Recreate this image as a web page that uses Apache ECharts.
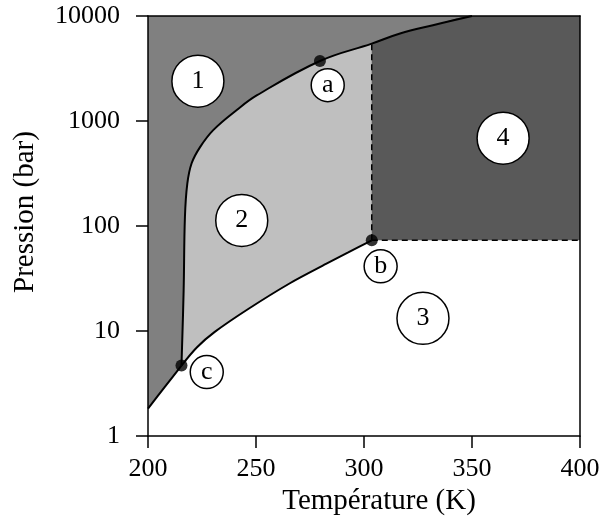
<!DOCTYPE html>
<html>
<head>
<meta charset="utf-8">
<script src="https://cdn.jsdelivr.net/npm/echarts@6.0.0/dist/echarts.min.js"></script>
<style>
    html, body {margin: 0; padding: 0; background: #fff;}
    #diagram {width: 603px; height: 517px;}
</style>
</head>
<body>
<div id="diagram"></div>
<script>
// courbes du diagramme de phase (T en K, P en bar)
var sublimT = [200, 207.7, 215.5];
var sublimP = [1.82, 2.92, 4.69];
var vapT = [215.5, 222.7, 230.9, 246.4, 265.7, 282.4, 292.7, 303.6];
var vapP = [4.69, 7.0, 9.8, 16.2, 28.5, 43.5, 56, 73.1];
var fusionT = [215.5, 216.5, 217.1, 218.2, 220.2, 224.1, 230.2, 241.1, 250.5, 279.6, 303.6, 316.7, 331.9, 350];
var fusionP = [4.69, 24.3, 122, 253, 396, 564, 819, 1273, 1762, 3727, 5455, 6808, 8173, 10000];

var xTicks = [200, 250, 300, 350, 400];
var yTicks = [1, 10, 100, 1000, 10000];

var regionNames = ['1', '2', '3', '4'];
var regionT = [223.1, 243.4, 327.3, 364.4];
var regionP = [2395, 113, 13.2, 686];

var pointNames = ['a', 'b', 'c'];
var pointT = [279.6, 303.6, 215.5];
var pointP = [3727, 73.1, 4.69];
var tagT = [283.2, 307.7, 227.2];
var tagP = [2195, 41.3, 4.06];

var serif = 'Liberation Serif';
var tMin = xTicks[0], tMax = xTicks[xTicks.length - 1];
var pMin = yTicks[0], pMax = yTicks[yTicks.length - 1];
var tCrit = pointT[1], pCrit = pointP[1];
var tTriple = pointT[2], pTriple = pointP[2];

function pairs(xs, ys) {
    var out = [];
    for (var i = 0; i < xs.length; i++) out.push([xs[i], ys[i]]);
    return out;
}

var fusion = pairs(fusionT, fusionP);
var sublim = pairs(sublimT, sublimP);
var vap = pairs(vapT, vapP);

// partie de la courbe de fusion au-dela du point critique
var superCrit = [];
for (var i = 0; i < fusion.length; i++) {
    if (fusion[i][0] >= tCrit) superCrit.push(fusion[i]);
}
superCrit.push([tMax, pMax]);

function areaSeries(data, color, smooth) {
    return {
        type: 'line', data: data, smooth: smooth, symbol: 'none', silent: true,
        lineStyle: {width: 0}, areaStyle: {color: color, opacity: 1, origin: 'start'}
    };
}
function curveSeries(data, smooth, dashed) {
    return {
        type: 'line', data: data, smooth: smooth, symbol: 'none', silent: true, z: 4,
        lineStyle: {color: '#000', width: dashed ? 1.5 : 2, type: dashed ? [6, 4] : 'solid'}
    };
}
// masque les joints entre deux aplats blancs
function seamSeries(data) {
    return {
        type: 'line', data: data, symbol: 'none', silent: true, z: 3,
        lineStyle: {color: '#fff', width: 2}
    };
}

var circles = [];
for (var r = 0; r < regionNames.length; r++) {
    circles.push({name: regionNames[r], value: [regionT[r], regionP[r]], symbolSize: 52});
}
for (var k = 0; k < pointNames.length; k++) {
    circles.push({name: pointNames[k], value: [tagT[k], tagP[k]], symbolSize: 33});
}

var axisLine = {show: true, onZero: false, lineStyle: {color: '#000', width: 1.5}};

var myChart = echarts.init(document.getElementById('diagram'));
var option = {
    animation: false,
    grid: {left: 148, right: 23, top: 16, bottom: 81, outerBoundsMode: 'none', containLabel: false,
        show: true, backgroundColor: '#808080', borderWidth: 0},
    xAxis: [
        {
            type: 'value', min: tMin, max: tMax, interval: 50, z: 10,
            name: 'Température (K)', nameLocation: 'middle', nameGap: 45,
            nameTextStyle: {color: '#000', fontFamily: serif, fontSize: 29, padding: [0, 0, 0, 30]},
            axisLine: axisLine,
            axisTick: {show: true, length: 12, lineStyle: {color: '#000', width: 1.5}},
            axisLabel: {color: '#000', fontFamily: serif, fontSize: 26, margin: 20},
            splitLine: {show: false}
        },
        {
            type: 'value', position: 'top', min: tMin, max: tMax, z: 10,
            axisLine: axisLine, axisTick: {show: false}, axisLabel: {show: false}, splitLine: {show: false}
        }
    ],
    yAxis: [
        {
            type: 'log', logBase: 10, min: pMin, max: pMax, z: 10,
            name: 'Pression (bar)', nameLocation: 'middle', nameGap: 108,
            nameTextStyle: {color: '#000', fontFamily: serif, fontSize: 29, padding: [0, 0, 0, 28]},
            axisLine: axisLine,
            axisTick: {show: true, length: 12, lineStyle: {color: '#000', width: 1.5}},
            minorTick: {show: false},
            axisLabel: {color: '#000', fontFamily: serif, fontSize: 26, margin: 28,
                formatter: function (v) { return String(Math.round(v)); }},
            splitLine: {show: false}
        },
        {
            type: 'log', logBase: 10, min: pMin, max: pMax, position: 'right', z: 10,
            axisLine: axisLine, axisTick: {show: false}, axisLabel: {show: false}, splitLine: {show: false}
        }
    ],
    series: [
        // zone 2 (liquide) sous la courbe de fusion
        areaSeries(fusion.concat([[tMax, pMax]]), '#bfbfbf', 0.4),
        // zone 4 (supercritique)
        areaSeries(superCrit, '#595959', 0.4),
        // zone 3 (gaz) sous sublimation / vaporisation
        areaSeries(sublim, '#ffffff', 0.3),
        areaSeries(vap, '#ffffff', 0.3),
        areaSeries([[tCrit, pCrit], [tMax, pCrit]], '#ffffff', false),
        seamSeries([[tTriple, pMin], [tTriple, pTriple]]),
        seamSeries([[tCrit, pMin], [tCrit, pCrit]]),

        curveSeries(fusion, 0.4, false),
        curveSeries(sublim, 0.3, false),
        curveSeries(vap, 0.3, false),
        curveSeries([[tCrit, pCrit], [tCrit, superCrit[0][1]]], false, true),
        curveSeries([[tCrit, pCrit], [tMax, pCrit]], false, true),

        {
            type: 'scatter', z: 6, silent: true, symbolSize: 12,
            data: pairs(pointT, pointP),
            itemStyle: {color: '#000'}
        },
        {
            type: 'scatter', z: 7, silent: true,
            data: circles,
            itemStyle: {color: '#fff', borderColor: '#000', borderWidth: 1.5, opacity: 1},
            label: {show: true, position: 'inside', formatter: '{b}', color: '#000', fontFamily: serif, fontSize: 26}
        }
    ]
};
myChart.setOption(option);
</script>
</body>
</html>
